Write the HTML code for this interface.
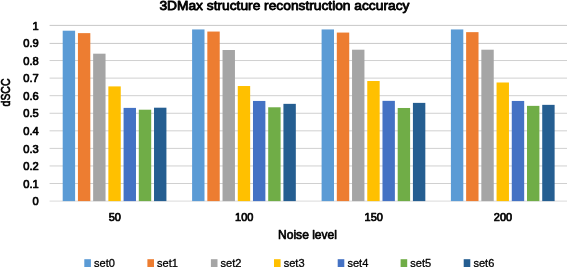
<!DOCTYPE html><html><head><meta charset="utf-8"><style>html,body{margin:0;padding:0;background:#fff;overflow:hidden}svg{display:block;will-change:transform}text{font-family:"Liberation Sans",sans-serif;fill:#000}.t{stroke:#000;stroke-width:0.7px;stroke-linejoin:round}.t3{stroke:#000;stroke-width:0.8px;stroke-linejoin:round}.t2{stroke:#000;stroke-width:0.3px;stroke-linejoin:round}</style></head><body>
<svg width="567" height="267" viewBox="0 0 567 267">
<rect width="567" height="267" fill="#fff"/>
<line x1="49.6" x2="567.0" y1="201.10" y2="201.10" stroke="#DADADA" stroke-width="1"/>
<line x1="49.6" x2="567.0" y1="183.53" y2="183.53" stroke="#D0D0D0" stroke-width="1"/>
<line x1="49.6" x2="567.0" y1="165.96" y2="165.96" stroke="#D0D0D0" stroke-width="1"/>
<line x1="49.6" x2="567.0" y1="148.39" y2="148.39" stroke="#D0D0D0" stroke-width="1"/>
<line x1="49.6" x2="567.0" y1="130.82" y2="130.82" stroke="#D0D0D0" stroke-width="1"/>
<line x1="49.6" x2="567.0" y1="113.25" y2="113.25" stroke="#D0D0D0" stroke-width="1"/>
<line x1="49.6" x2="567.0" y1="95.68" y2="95.68" stroke="#D0D0D0" stroke-width="1"/>
<line x1="49.6" x2="567.0" y1="78.11" y2="78.11" stroke="#D0D0D0" stroke-width="1"/>
<line x1="49.6" x2="567.0" y1="60.54" y2="60.54" stroke="#D0D0D0" stroke-width="1"/>
<line x1="49.6" x2="567.0" y1="43.42" y2="43.42" stroke="#C8C8C8" stroke-width="1"/>
<line x1="49.6" x2="567.0" y1="25.40" y2="25.40" stroke="#C8C8C8" stroke-width="1"/>
<rect x="62.70" y="30.71" width="12.4" height="170.39" fill="#5B9BD5"/>
<rect x="77.92" y="33.13" width="12.4" height="167.97" fill="#ED7D31"/>
<rect x="93.14" y="53.69" width="12.4" height="147.41" fill="#A5A5A5"/>
<rect x="108.36" y="86.40" width="12.4" height="114.70" fill="#FFC000"/>
<rect x="123.58" y="107.89" width="12.4" height="93.21" fill="#4472C4"/>
<rect x="138.80" y="109.70" width="12.4" height="91.40" fill="#70AD47"/>
<rect x="154.02" y="107.70" width="12.4" height="93.40" fill="#255E91"/>
<rect x="192.10" y="29.44" width="12.4" height="171.66" fill="#5B9BD5"/>
<rect x="207.32" y="31.55" width="12.4" height="169.55" fill="#ED7D31"/>
<rect x="222.54" y="50.00" width="12.4" height="151.10" fill="#A5A5A5"/>
<rect x="237.76" y="86.02" width="12.4" height="115.08" fill="#FFC000"/>
<rect x="252.98" y="100.95" width="12.4" height="100.15" fill="#4472C4"/>
<rect x="268.20" y="107.28" width="12.4" height="93.82" fill="#70AD47"/>
<rect x="283.42" y="103.85" width="12.4" height="97.25" fill="#255E91"/>
<rect x="321.60" y="29.44" width="12.4" height="171.66" fill="#5B9BD5"/>
<rect x="336.82" y="32.57" width="12.4" height="168.53" fill="#ED7D31"/>
<rect x="352.04" y="49.70" width="12.4" height="151.40" fill="#A5A5A5"/>
<rect x="367.26" y="81.01" width="12.4" height="120.09" fill="#FFC000"/>
<rect x="382.48" y="100.85" width="12.4" height="100.25" fill="#4472C4"/>
<rect x="397.70" y="107.98" width="12.4" height="93.12" fill="#70AD47"/>
<rect x="412.92" y="102.88" width="12.4" height="98.22" fill="#255E91"/>
<rect x="450.90" y="29.44" width="12.4" height="171.66" fill="#5B9BD5"/>
<rect x="466.12" y="32.15" width="12.4" height="168.95" fill="#ED7D31"/>
<rect x="481.34" y="49.70" width="12.4" height="151.40" fill="#A5A5A5"/>
<rect x="496.56" y="82.50" width="12.4" height="118.60" fill="#FFC000"/>
<rect x="511.78" y="100.95" width="12.4" height="100.15" fill="#4472C4"/>
<rect x="527.00" y="105.87" width="12.4" height="95.23" fill="#70AD47"/>
<rect x="542.22" y="104.85" width="12.4" height="96.25" fill="#255E91"/>
<text x="38.7" y="205.25" font-size="10.8" class="t" text-anchor="end" textLength="6.2" lengthAdjust="spacingAndGlyphs">0</text>
<text x="38.7" y="187.68" font-size="10.8" class="t" text-anchor="end" textLength="15.5" lengthAdjust="spacingAndGlyphs">0.1</text>
<text x="38.7" y="170.11" font-size="10.8" class="t" text-anchor="end" textLength="15.5" lengthAdjust="spacingAndGlyphs">0.2</text>
<text x="38.7" y="152.54" font-size="10.8" class="t" text-anchor="end" textLength="15.5" lengthAdjust="spacingAndGlyphs">0.3</text>
<text x="38.7" y="134.97" font-size="10.8" class="t" text-anchor="end" textLength="15.5" lengthAdjust="spacingAndGlyphs">0.4</text>
<text x="38.7" y="117.40" font-size="10.8" class="t" text-anchor="end" textLength="15.5" lengthAdjust="spacingAndGlyphs">0.5</text>
<text x="38.7" y="99.83" font-size="10.8" class="t" text-anchor="end" textLength="15.5" lengthAdjust="spacingAndGlyphs">0.6</text>
<text x="38.7" y="82.26" font-size="10.8" class="t" text-anchor="end" textLength="15.5" lengthAdjust="spacingAndGlyphs">0.7</text>
<text x="38.7" y="64.69" font-size="10.8" class="t" text-anchor="end" textLength="15.5" lengthAdjust="spacingAndGlyphs">0.8</text>
<text x="38.7" y="47.12" font-size="10.8" class="t" text-anchor="end" textLength="15.5" lengthAdjust="spacingAndGlyphs">0.9</text>
<text x="38.7" y="29.55" font-size="10.8" class="t" text-anchor="end" textLength="6.2" lengthAdjust="spacingAndGlyphs">1</text>
<text x="114.81" y="220.6" font-size="10.8" class="t" text-anchor="middle" textLength="12.2" lengthAdjust="spacingAndGlyphs">50</text>
<text x="244.21" y="220.6" font-size="10.8" class="t" text-anchor="middle" textLength="18.3" lengthAdjust="spacingAndGlyphs">100</text>
<text x="373.71" y="220.6" font-size="10.8" class="t" text-anchor="middle" textLength="18.3" lengthAdjust="spacingAndGlyphs">150</text>
<text x="503.01" y="220.6" font-size="10.8" class="t" text-anchor="middle" textLength="18.3" lengthAdjust="spacingAndGlyphs">200</text>
<text x="284.4" y="9.8" font-size="12.8" class="t3" text-anchor="middle" textLength="250" lengthAdjust="spacingAndGlyphs">3DMax structure reconstruction accuracy</text>
<text x="307.5" y="239.3" font-size="12.7" class="t" text-anchor="middle" textLength="59" lengthAdjust="spacingAndGlyphs">Noise level</text>
<text transform="translate(10.0,92.5) rotate(-90)" font-size="12.7" class="t" text-anchor="middle" textLength="27.9" lengthAdjust="spacingAndGlyphs">dSCC</text>
<rect x="84.3" y="259.2" width="6.6" height="8" fill="#5B9BD5"/>
<text x="94.0" y="267.1" font-size="11.4" class="t2" textLength="20.9" lengthAdjust="spacingAndGlyphs">set0</text>
<rect x="147.4" y="259.2" width="6.6" height="8" fill="#ED7D31"/>
<text x="157.1" y="267.1" font-size="11.4" class="t2" textLength="20.9" lengthAdjust="spacingAndGlyphs">set1</text>
<rect x="210.9" y="259.2" width="6.6" height="8" fill="#A5A5A5"/>
<text x="220.6" y="267.1" font-size="11.4" class="t2" textLength="20.9" lengthAdjust="spacingAndGlyphs">set2</text>
<rect x="274.0" y="259.2" width="6.6" height="8" fill="#FFC000"/>
<text x="283.7" y="267.1" font-size="11.4" class="t2" textLength="20.9" lengthAdjust="spacingAndGlyphs">set3</text>
<rect x="337.7" y="259.2" width="6.6" height="8" fill="#4472C4"/>
<text x="347.4" y="267.1" font-size="11.4" class="t2" textLength="20.9" lengthAdjust="spacingAndGlyphs">set4</text>
<rect x="400.6" y="259.2" width="6.6" height="8" fill="#70AD47"/>
<text x="410.3" y="267.1" font-size="11.4" class="t2" textLength="20.9" lengthAdjust="spacingAndGlyphs">set5</text>
<rect x="463.7" y="259.2" width="6.6" height="8" fill="#255E91"/>
<text x="473.4" y="267.1" font-size="11.4" class="t2" textLength="20.9" lengthAdjust="spacingAndGlyphs">set6</text>
</svg></body></html>
